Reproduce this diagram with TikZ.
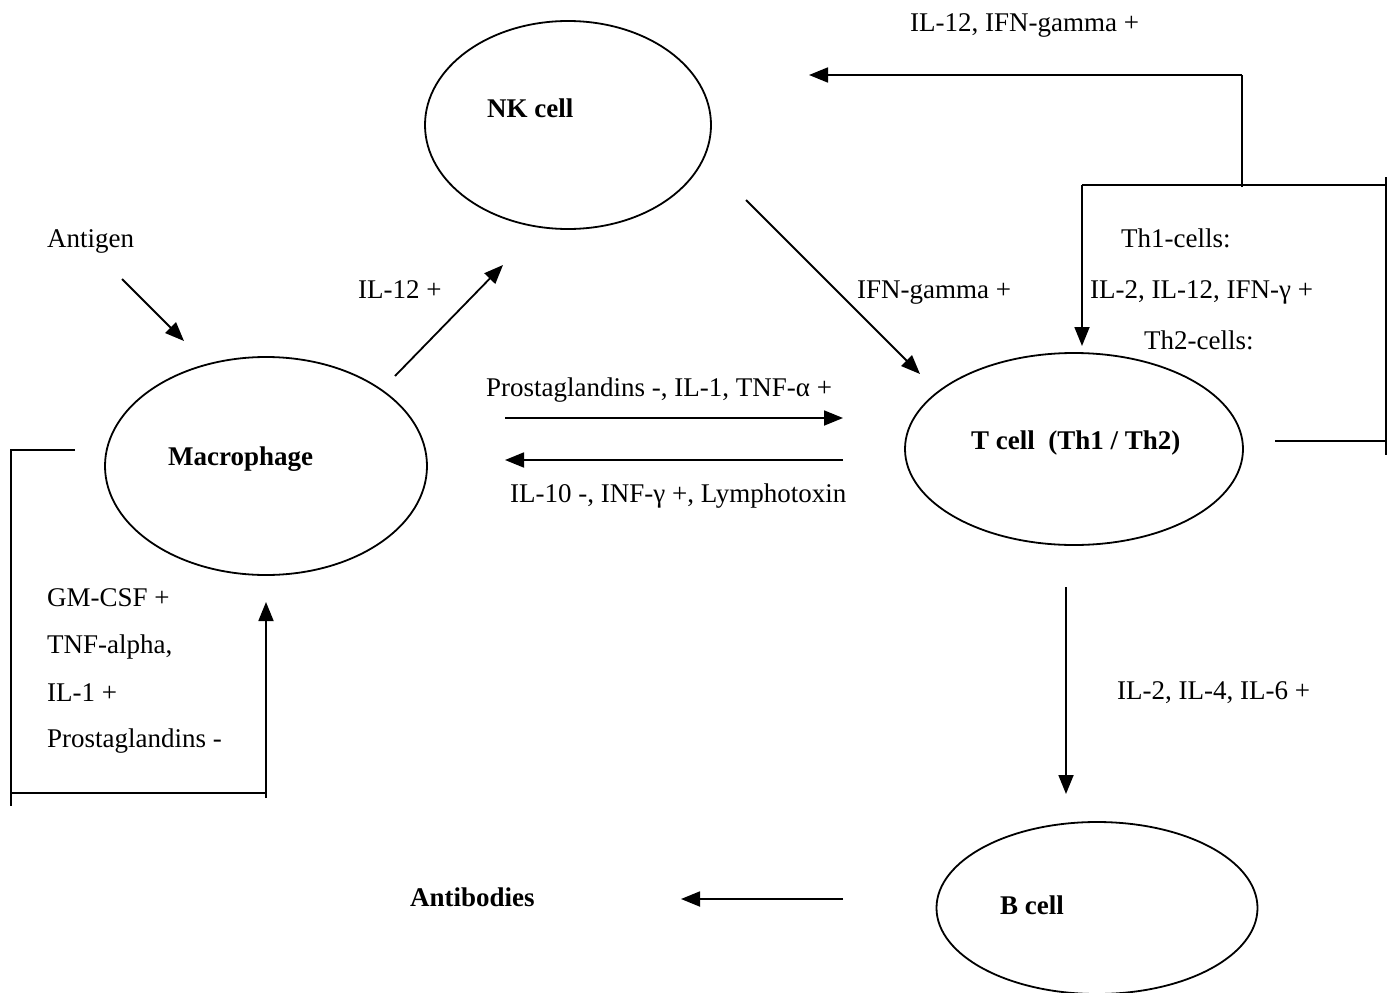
\documentclass[tikz,border=0pt]{standalone}
\usepackage{fontspec}
\setmainfont{Liberation Serif}
\usetikzlibrary{arrows.meta,shapes.geometric}
\begin{document}
\begin{tikzpicture}[x=1pt,y=-1pt,
  every node/.style={font=\fontsize{27}{32}\selectfont, inner sep=0pt},
  cell/.style={draw, ellipse, line width=1.8pt, inner sep=0pt},
  lbl/.style={anchor=base west},
  blbl/.style={anchor=base west, font=\fontsize{27}{32}\selectfont\bfseries},
  conn/.style={line width=1.8pt},
  arr/.style={conn, -{Triangle[length=19pt,width=15pt]}}]
\useasboundingbox (0,0) rectangle (1390,993);
% cells
\node[cell, minimum width=286pt, minimum height=208pt] (nk) at (568,125) {};
\node[cell, minimum width=322pt, minimum height=218pt] (mac) at (266,466) {};
\node[cell, minimum width=338pt, minimum height=192pt] (tc) at (1074,449) {};
\node[cell, minimum width=321pt, minimum height=172pt] (bc) at (1097,908) {};
% bold labels
\node[blbl] (nkl) at (487,117) {NK cell};
\node[blbl] (macl) at (168,465) {Macrophage};
\node[blbl] (tcl) at (971,449) {T cell\ \ (Th1 / Th2)};
\node[blbl] (bcl) at (1000,914) {B cell};
\node[blbl] (ab) at (410,906) {Antibodies};
% plain labels
\node[lbl] (ag) at (47,247) {Antigen};
\node[lbl] (l12) at (358,298) {IL-12 +};
\node[lbl] (ifn) at (857,298) {IFN-gamma +};
\node[lbl] (top) at (910,31) {IL-12, IFN-gamma +};
\node[lbl] (th1) at (1121,247) {Th1-cells:};
\node[lbl] (th1c) at (1090,298) {IL-2, IL-12, IFN-γ +};
\node[lbl] (th2) at (1144,349) {Th2-cells:};
\node[lbl] (pg) at (486,396) {Prostaglandins -, IL-1, TNF-α +};
\node[lbl] (il10) at (510,502) {IL-10 -, INF-γ +, Lymphotoxin};
\node[lbl] (il2) at (1117,699) {IL-2, IL-4, IL-6 +};
\node[lbl] (gm) at (47,606) {GM-CSF +};
\node[lbl] (tnf) at (47,653) {TNF-alpha,};
\node[lbl] (il1) at (47,701) {IL-1 +};
\node[lbl] (pgl) at (47,747) {Prostaglandins -};
% coordinates
\coordinate (a1) at (122,279); \coordinate (a2) at (184,341);
\coordinate (b1) at (395,376); \coordinate (b2) at (503,265);
\coordinate (c1) at (746,200); \coordinate (c2) at (920,374);
\coordinate (d1) at (505,418); \coordinate (d2) at (843,418);
\coordinate (e1) at (843,460); \coordinate (e2) at (505,460);
\coordinate (f1) at (1066,587); \coordinate (f2) at (1066,794);
\coordinate (g1) at (843,899); \coordinate (g2) at (681,899);
\coordinate (r1) at (1275,441); \coordinate (r2) at (1386,441);
\coordinate (r3) at (1386,177); \coordinate (r4) at (1386,455);
\coordinate (r5) at (1082,185); \coordinate (r6) at (1082,346);
\coordinate (r7) at (1242,187); \coordinate (r8) at (1242,75);
\coordinate (r9) at (809,75);
\coordinate (m1) at (75,450); \coordinate (m2) at (11,450);
\coordinate (m3) at (11,806); \coordinate (m4) at (11,793);
\coordinate (m5) at (266,793); \coordinate (m6) at (266,798);
\coordinate (m7) at (266,602);
% arrows
\draw[arr] (a1) -- (a2);
\draw[arr] (b1) -- (b2);
\draw[arr] (c1) -- (c2);
\draw[arr] (d1) -- (d2);
\draw[arr] (e1) -- (e2);
\draw[arr] (f1) -- (f2);
\draw[arr] (g1) -- (g2);
% right feedback
\draw[conn] (r1) -- (r2);
\draw[conn] (r3) -- (r4);
\draw[conn] (r5 -| r2) -- (r5);
\draw[arr] (r5) -- (r6);
\draw[conn] (r7) -- (r8);
\draw[arr] (r8) -- (r9);
% left feedback
\draw[conn] (m1) -- (m2) -- (m3);
\draw[conn] (m4) -- (m5);
\draw[arr] (m6) -- (m7);
\end{tikzpicture}
\end{document}
